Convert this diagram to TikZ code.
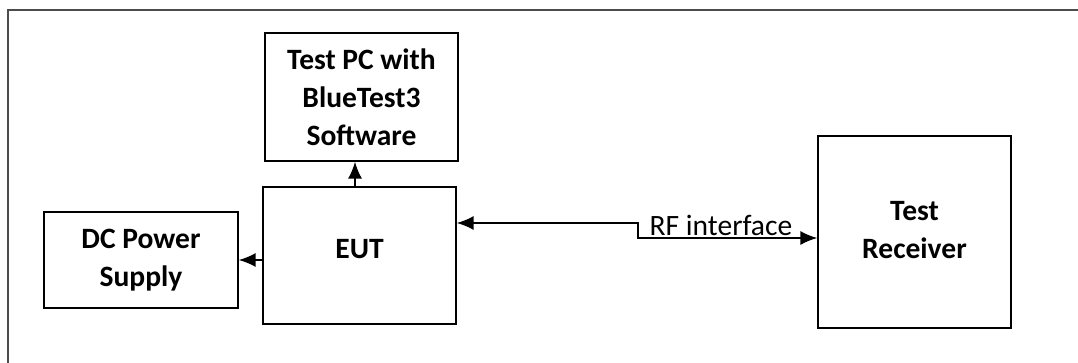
\documentclass[tikz,border=0pt]{standalone}
\usepackage{fontspec}
\setmainfont{Carlito}
\usetikzlibrary{arrows.meta, positioning}

\tikzset{
  block/.style={draw, line width=1.1pt, align=center, font=\bfseries\fontsize{21}{27}\selectfont,
    inner sep=0pt},
  conn/.style={line width=1.1pt, -{Latex[length=12pt,width=10pt]}},
  twoway/.style={line width=1.1pt, {Latex[length=12pt,width=10pt]}-{Latex[length=12pt,width=10pt]}}
}

\begin{document}
\begin{tikzpicture}[x=0.025cm, y=-0.025cm]

% Page size and frame
\useasboundingbox (0,0) rectangle (1078,362);
\draw[line width=1.1pt, black!70] (8,380) -- (8,10) -- (1090,10);

% Blocks
\node[block, minimum width=4.825cm, minimum height=3.2cm] (PC) at (361.5,97) {Test PC with\\BlueTest3\\Software};
\node[block, minimum width=4.825cm, minimum height=3.425cm] (EUT) at (359.5,255.5) {\raisebox{0.34cm}{EUT}};
\node[block, minimum width=4.85cm, minimum height=2.4cm] (DC) at (141,260) {DC Power\\Supply};
\node[block, minimum width=4.825cm, minimum height=4.8cm] (RX) at (914.5,232)
  {\raisebox{0.26cm}{\begin{tabular}{@{}c@{}}Test\\Receiver\end{tabular}}};

% Corner of the RF line
\coordinate (K) at (638,238);

% Connectors
\draw[conn] (EUT.north -| 355,0) -- (PC.south -| 355,0);
\draw[conn] (EUT.west |- 0,260) -- (DC.east |- 0,260);
\draw[twoway] ([yshift=0.8125cm]EUT.east) -| (K) -- (RX.west |- K);

% Labels
\node[font=\fontsize{21}{25}\selectfont, inner sep=0pt, anchor=base] (RF) at (721,235) {RF interface};

\end{tikzpicture}
\end{document}
